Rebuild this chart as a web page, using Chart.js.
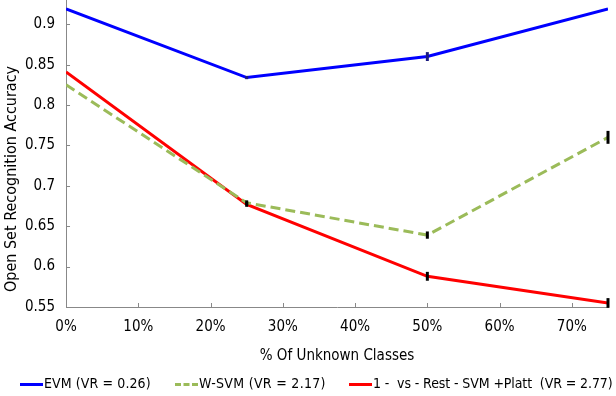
<!DOCTYPE html>
<html>
<head>
<meta charset="utf-8">
<script src="https://cdn.jsdelivr.net/npm/chart.js@4"></script>
<style>
    html, body { margin: 0; padding: 0; background: #fff; }
    #wrap { position: relative; width: 616px; height: 396px; overflow: hidden; }
    #legend { position: absolute; left: 0; top: 373px; width: 616px; height: 20px;
        font-family: "DejaVu Sans Condensed", "DejaVu Sans", sans-serif; font-size: 14px; color: #000; }
    #legend .item { position: absolute; top: 0; white-space: pre; line-height: 20px; }
    #legend .line { display: inline-block; width: 23px; height: 0; vertical-align: middle; margin-right: 1px; border-top-width: 3px; }
</style>
</head>
<body>
<div id="wrap">
    <canvas id="chart" width="616" height="396"></canvas>
    <div id="legend"></div>
</div>
<script>
// Data
var unknownPct = [0, 25, 50, 75];
var evmAcc = [0.919, 0.834, 0.860, 0.919];
var evmErr = [0, 0.002, 0.0055, 0];
var wsvmAcc = [0.825, 0.679, 0.639, 0.760];
var wsvmErr = [0, 0.003, 0.0045, 0.008];
var ovrAcc = [0.841, 0.677, 0.588, 0.555];
var ovrErr = [0, 0.003, 0.0055, 0.006];
var xTicks = [0, 10, 20, 30, 40, 50, 60, 70];
var yTicks = [0.55, 0.6, 0.65, 0.7, 0.75, 0.8, 0.85, 0.9];
var seriesNames = ['EVM (VR = 0.26)', 'W-SVM (VR = 2.17)', '1 -  vs - Rest - SVM +Platt  (VR = 2.77)'];

var FONT = '"DejaVu Sans Condensed", "DejaVu Sans", sans-serif';
var AXIS_COLOR = '#888888';

function toPoints(values) {
    return values.map(function (v, i) { return { x: unknownPct[i], y: v }; });
}

// No room for half labels at the axis ends, and tick padding only once
function tightFit(scale) {
    scale.paddingTop = 0;
    scale.paddingBottom = 0;
    scale.paddingLeft = 0;
    scale.paddingRight = 0;
    if (scale.isHorizontal())
        scale.height -= scale.options.ticks.padding;
    else
        scale.width -= scale.options.ticks.padding;
}

/**
 * Error bars, inner tick marks and y title
 */
var extrasPlugin = {
    id: 'extras',
    afterDatasetsDraw: function (chart) {
        var ctx = chart.ctx;
        var xs = chart.scales.x;
        var ys = chart.scales.y;
        var area = chart.chartArea;
        var errs = [evmErr, wsvmErr, ovrErr];
        var errColors = ['#1a1a80', '#000000', '#000000'];

        ctx.save();
        // Error bars
        chart.data.datasets.forEach(function (ds, d) {
            ds.data.forEach(function (p, i) {
                var e = errs[d][i];
                if (!e) return;
                var px = xs.getPixelForValue(p.x);
                ctx.strokeStyle = errColors[d];
                ctx.lineWidth = 3;
                ctx.beginPath();
                ctx.moveTo(px, ys.getPixelForValue(p.y - e));
                ctx.lineTo(px, ys.getPixelForValue(p.y + e));
                ctx.stroke();
            });
        });

        // Inner tick marks
        ctx.strokeStyle = AXIS_COLOR;
        ctx.lineWidth = 1;
        ctx.beginPath();
        xTicks.forEach(function (v) {
            var px = Math.round(xs.getPixelForValue(v)) + 0.5;
            ctx.moveTo(px, area.bottom);
            ctx.lineTo(px, area.bottom - 4);
        });
        yTicks.forEach(function (v) {
            var py = Math.round(ys.getPixelForValue(v)) + 0.5;
            ctx.moveTo(area.left, py);
            ctx.lineTo(area.left + 4, py);
        });
        ctx.stroke();

        // Y title
        ctx.fillStyle = '#000';
        ctx.font = '16px ' + FONT;
        ctx.textAlign = 'center';
        ctx.textBaseline = 'middle';
        ctx.translate(12, 179);
        ctx.rotate(-Math.PI / 2);
        ctx.fillText('Open Set Recognition Accuracy', 0, 0);
        ctx.restore();
    }
};

var chart = new Chart(document.getElementById('chart').getContext('2d'), {
    type: 'line',
    data: {
        datasets: [{
            label: seriesNames[0],
            data: toPoints(evmAcc),
            borderColor: '#0000ff',
            borderWidth: 3,
            pointRadius: 0
        }, {
            label: seriesNames[1],
            data: toPoints(wsvmAcc),
            borderColor: '#9bbb59',
            borderWidth: 3,
            borderDash: [10, 5],
            pointRadius: 0
        }, {
            label: seriesNames[2],
            data: toPoints(ovrAcc),
            borderColor: '#ff0000',
            borderWidth: 3,
            pointRadius: 0
        }]
    },
    options: {
        responsive: false,
        animation: false,
        layout: {
            padding: { left: 25, right: 8, top: 0, bottom: 31 }
        },
        plugins: {
            legend: { display: false },
            tooltip: { enabled: false }
        },
        scales: {
            x: {
                type: 'linear',
                min: 0,
                max: 75,
                afterBuildTicks: function (scale) {
                    scale.ticks = xTicks.map(function (v) { return { value: v }; });
                },
                afterFit: tightFit,
                ticks: {
                    color: '#000',
                    padding: 11,
                    font: { family: FONT, size: 15 },
                    callback: function (v) { return v + '%'; }
                },
                grid: {
                    display: true,
                    drawOnChartArea: false,
                    drawTicks: false
                },
                border: { color: AXIS_COLOR, width: 1 },
                title: {
                    display: true,
                    text: '% Of Unknown Classes',
                    color: '#000',
                    padding: { top: 11, bottom: 0 },
                    font: { family: FONT, size: 15 }
                }
            },
            y: {
                min: 0.55,
                max: 0.93,
                afterBuildTicks: function (scale) {
                    scale.ticks = yTicks.map(function (v) { return { value: v }; });
                },
                afterFit: tightFit,
                ticks: {
                    color: '#000',
                    padding: 11,
                    font: { family: FONT, size: 15 },
                    callback: function (v) { return String(Number(v.toFixed(2))); }
                },
                grid: {
                    display: true,
                    drawOnChartArea: false,
                    drawTicks: false
                },
                border: { color: AXIS_COLOR, width: 1 }
            }
        }
    },
    plugins: [extrasPlugin]
});

// Legend
var legendItems = [
    { left: 20, color: '#0000ff', style: 'solid', spacing: 0.1 },
    { left: 175, color: '#9bbb59', style: 'dashed', spacing: 0.3 },
    { left: 349, color: '#ff0000', style: 'solid', spacing: -0.1 }
];
legendItems.forEach(function (item, i) {
    var el = document.createElement('span');
    el.className = 'item';
    el.style.left = item.left + 'px';
    el.style.letterSpacing = item.spacing + 'px';
    var line = document.createElement('span');
    line.className = 'line';
    line.style.borderTopStyle = item.style;
    line.style.borderTopColor = item.color;
    el.appendChild(line);
    el.appendChild(document.createTextNode(seriesNames[i]));
    document.getElementById('legend').appendChild(el);
});
</script>
</body>
</html>
